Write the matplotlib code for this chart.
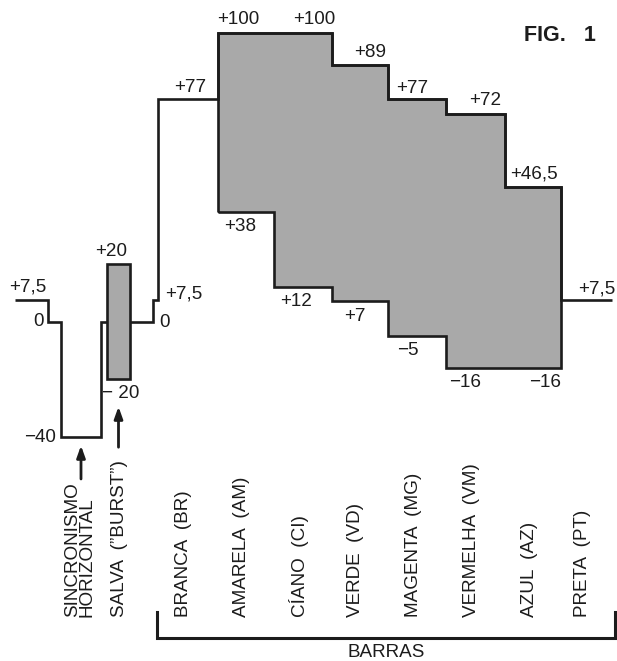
#!/usr/bin/env python3
"""
Composite video colour-bar signal (FIG. 1), redrawn with matplotlib.
"""
import matplotlib
matplotlib.use("Agg")
import matplotlib.pyplot as plt

plt.rcParams['font.family'] = ['Liberation Sans', 'DejaVu Sans']

# --- Signal data (IRE levels), x in line-time units ---
porch_edges = [15, 48, 61, 101, 153, 158]
porch_levels = [7.5, 0, -40, 0, 7.5]
burst_edges = [107, 130]
burst_amplitude = 20

bar_names = ["BRANCA  (BR)", "AMARELA  (AM)", "CÍANO  (CI)", "VERDE  (VD)",
             "MAGENTA  (MG)", "VERMELHA  (VM)", "AZUL  (AZ)", "PRETA  (PT)"]
bar_edges = [158, 218, 274, 332, 388, 446, 505, 561, 612]
bar_top = [77, 100, 100, 89, 77, 72, 46.5, 7.5]
bar_bottom = [77, 38, 12, 7, -5, -16, -16, 7.5]

INK = '#1c1c1c'
GRAY = '#a9a9a9'
FS = 13.6


def fmt(v):
    # portuguese style: +46,5  / -16
    s = f"{abs(v):g}".replace('.', ',')
    if v > 0:
        return '+' + s
    if v < 0:
        return '\u2212' + s
    return s


def label(ax, x, y, text, dx, dy, ha='center'):
    ax.annotate(text, xy=(x, y), xytext=(dx, dy), textcoords='offset pixels',
                ha=ha, va='center', fontsize=FS, color=INK)


def main():
    fig = plt.figure(figsize=(6.17, 6.61), dpi=100)
    ax = fig.add_axes([0, 0, 1, 1])
    ax.set_xlim(0, 617)
    ax.set_ylim(-117.6, 111.4)
    ax.axis('off')

    centers = [(a + b) / 2 for a, b in zip(bar_edges[:-1], bar_edges[1:])]

    # chroma area of the colour bars
    ax.stairs(bar_top[1:-1], bar_edges[1:-1], baseline=bar_bottom[1:-1],
              fill=True, facecolor=GRAY, edgecolor=INK, linewidth=1.9, zorder=2)

    # luminance / blanking waveform
    ax.stairs(porch_levels + bar_top, porch_edges + bar_edges[1:],
              baseline=None, color=INK, linewidth=1.9, zorder=3)

    # burst
    bc = (burst_edges[0] + burst_edges[1]) / 2
    ax.bar(bc, 2 * burst_amplitude, width=burst_edges[1] - burst_edges[0],
           bottom=-burst_amplitude, facecolor=GRAY, edgecolor=INK,
           linewidth=1.9, zorder=4)

    # level labels - blanking part
    label(ax, porch_edges[0], porch_levels[0], fmt(porch_levels[0]), 13, 13)
    label(ax, porch_edges[1], porch_levels[1], fmt(porch_levels[1]), -10, 0)
    label(ax, porch_edges[2], porch_levels[2], fmt(porch_levels[2]), -5, 0, ha='right')
    label(ax, bc, burst_amplitude, fmt(burst_amplitude), -7, 12)
    label(ax, bc, -burst_amplitude, '\u2212 20', 2, -14)
    label(ax, porch_edges[-2], porch_levels[-1], fmt(porch_levels[-1]), 12, 6, ha='left')
    label(ax, porch_edges[-2], porch_levels[-2], fmt(porch_levels[-2]), 6, -1, ha='left')

    # level labels - bars
    top_dx = [2, -8, 11, 10, -5, 10, 1, 10]
    top_dy = [12, 13, 13, 12, 11, 13, 13, 11]
    for c, v, dx, dy in zip(centers, bar_top, top_dx, top_dy):
        label(ax, c, v, fmt(v), dx, dy)
    bot_dx = [-6, -7, -5, -9, -10, 12]
    for c, v, dx in zip(centers[1:-1], bar_bottom[1:-1], bot_dx):
        label(ax, c, v, fmt(v), dx, -15)

    # arrows under sync and burst
    sc = (porch_edges[2] + porch_edges[3]) / 2
    arrow = dict(arrowstyle='-|>,head_length=0.7,head_width=0.25', color=INK, lw=2)
    ax.annotate('', xy=(sc, porch_levels[2] - 2), xytext=(sc, porch_levels[2] - 15.5),
                arrowprops=arrow)
    ax.annotate('', xy=(bc, -burst_amplitude - 8.5), xytext=(bc, -burst_amplitude - 24.5),
                arrowprops=arrow)

    # vertical captions
    tr = ax.get_xaxis_transform()
    ax.text(sc - 1, 0.0666, "SINCRONISMO\nHORIZONTAL", transform=tr, rotation=90,
            ha='center', va='bottom', multialignment='left', linespacing=0.8,
            fontsize=FS, color=INK)
    ax.text(bc + 1, 0.0666, "SALVA  (\u201dBURST\u201d)", transform=tr, rotation=90,
            ha='center', va='bottom', fontsize=FS, color=INK)
    for c, name in zip(centers, bar_names):
        ax.text(c - 4, 0.0666, name, transform=tr, rotation=90,
                ha='center', va='bottom', fontsize=FS, color=INK)

    # bracket "BARRAS"
    x0, x1 = bar_edges[0] - 1, bar_edges[-1] + 3
    ax.plot([x0, x0, x1, x1], [0.0741, 0.0348, 0.0348, 0.0741], transform=tr,
            color=INK, lw=2.2, solid_joinstyle='miter', clip_on=False)
    ax.text((x0 + x1) / 2, 0.0136, "BARRAS", transform=tr, ha='center',
            va='center', fontsize=FS, color=INK)

    ax.text(0.908, 0.947, "FIG.   1", transform=ax.transAxes, ha='center',
            va='center', fontsize=15.5, fontweight='bold', color=INK)

    fig.savefig("out.png", dpi=100, facecolor='white')


if __name__ == '__main__':
    main()
